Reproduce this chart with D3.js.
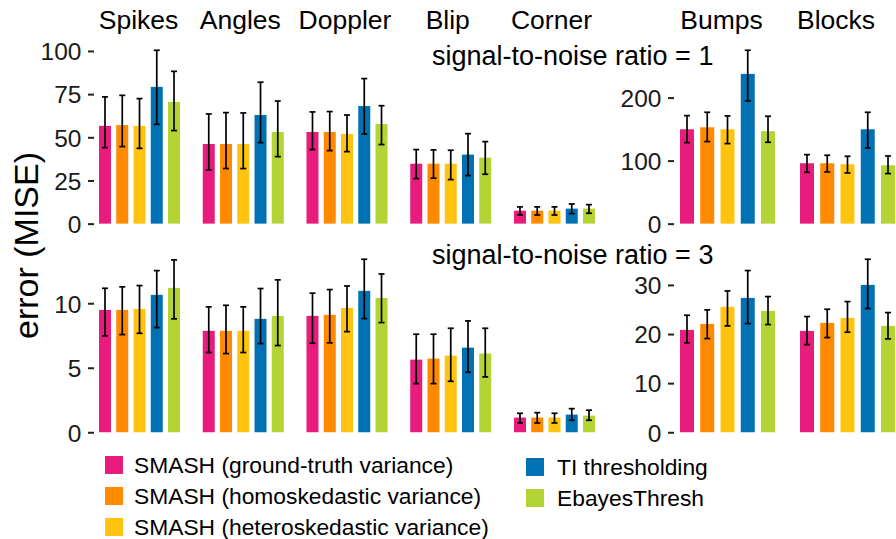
<!DOCTYPE html>
<html><head><meta charset="utf-8">
<script src="https://cdn.jsdelivr.net/npm/d3@7"></script>
<style>
body{margin:0;background:#fff}
svg{display:block}
text{font-family:"Liberation Sans",Arial,Helvetica,sans-serif}
</style>
</head><body><svg id="c" width="896" height="539"></svg>
<script>
// ---------------- data ----------------
const signalsLeft = ["Spikes", "Angles", "Doppler", "Blip", "Corner"];
const signalsRight = ["Bumps", "Blocks"];
const methods = [
  "SMASH (ground-truth variance)",
  "SMASH (homoskedastic variance)",
  "SMASH (heteroskedastic variance)",
  "TI thresholding",
  "EbayesThresh"
];
const methodColors = ["#e81c7c", "#ff8a00", "#ffc40f", "#0071b3", "#b4d335"];
const snrLabels = ["signal-to-noise ratio = 1", "signal-to-noise ratio = 3"];
const yTitle = "error (MISE)";

// rows: Spikes, Angles, Doppler, Blip, Corner, Bumps, Blocks ; columns: methods
const snr1Mean = [
  [56.6, 57.1, 56.6, 79.2, 70.5],
  [46.1, 46.1, 46.1, 62.9, 53.1],
  [53.1, 53.1, 51.9, 68.1, 57.7],
  [34.7, 34.7, 34.7, 40.0, 38.2],
  [7.5, 7.5, 7.5, 8.7, 8.7],
  [149.7, 152.9, 149.7, 237.6, 146.6],
  [95.8, 95.8, 94.2, 149.7, 92.6]
];
const snr1Lower = [
  [44.0, 44.6, 43.6, 57.5, 53.9],
  [31.1, 31.9, 31.9, 46.9, 38.8],
  [42.9, 42.3, 41.7, 51.9, 45.8],
  [26.1, 26.3, 25.5, 27.8, 28.6],
  [5.0, 5.0, 5.0, 5.8, 6.0],
  [128.6, 130.2, 127.0, 194.7, 129.1],
  [81.5, 82.0, 80.4, 120.1, 79.4]
];
const snr1Upper = [
  [73.4, 74.3, 72.4, 100.4, 88.2],
  [63.5, 64.3, 64.1, 81.9, 71.0],
  [64.7, 64.9, 62.9, 84.0, 68.3],
  [42.9, 42.7, 42.5, 52.1, 47.5],
  [9.7, 9.7, 9.7, 11.4, 11.0],
  [171.4, 176.7, 170.9, 275.1, 170.4],
  [109.5, 108.5, 106.9, 176.7, 107.4]
];
const snr3Mean = [
  [9.48, 9.48, 9.56, 10.65, 11.19],
  [7.86, 7.86, 7.86, 8.79, 9.02],
  [9.02, 9.10, 9.64, 10.96, 10.41],
  [5.63, 5.71, 5.94, 6.56, 6.10],
  [1.14, 1.14, 1.14, 1.37, 1.29],
  [20.84, 22.06, 25.53, 27.36, 24.71],
  [20.64, 22.27, 23.29, 30.01, 21.66]
];
const snr3Lower = [
  [7.47, 7.57, 7.67, 8.11, 8.79],
  [6.18, 6.10, 6.18, 6.87, 6.72],
  [6.90, 6.93, 7.80, 8.81, 8.50],
  [3.77, 3.77, 3.95, 4.65, 4.29],
  [0.72, 0.72, 0.72, 0.93, 0.93],
  [18.19, 19.08, 21.66, 22.13, 21.93],
  [17.85, 19.28, 20.37, 25.19, 19.01]
];
const snr3Upper = [
  [11.16, 11.27, 11.37, 12.53, 13.36],
  [9.72, 9.84, 9.72, 11.14, 11.81],
  [10.78, 11.06, 11.34, 13.41, 12.27],
  [7.60, 7.60, 8.06, 8.63, 8.06],
  [1.47, 1.52, 1.47, 1.83, 1.71],
  [23.83, 24.92, 28.78, 32.93, 27.63],
  [23.56, 25.05, 26.61, 35.23, 24.37]
];
const ticksSnr1Left = [0, 25, 50, 75, 100];
const ticksSnr1Right = [0, 100, 200];
const ticksSnr3Left = [0, 5, 10];
const ticksSnr3Right = [0, 10, 20, 30];

// ---------------- layout ----------------
const FONT = '"Liberation Sans",Arial,Helvetica,sans-serif';
const svg = d3.select("#c");
const signals = signalsLeft.concat(signalsRight);

const xLeft = d3.scaleBand().domain(signalsLeft).range([99, 595]).paddingInner(0.219);
const xRight = d3.scaleBand().domain(signalsRight).range([680, 895]).paddingInner(0.2083);
const innerLeft = d3.scaleBand().domain(methods).range([0, xLeft.bandwidth()]).paddingInner(0.304);
const innerRight = d3.scaleBand().domain(methods).range([0, xRight.bandwidth()]).paddingInner(0.309);
const color = d3.scaleOrdinal().domain(methods).range(methodColors);

const panels = [
  { signals: signalsLeft, x: xLeft, inner: innerLeft, axisX: 94, labelNudge: [-1, -3, -2, -3, -3] },
  { signals: signalsRight, x: xRight, inner: innerRight, axisX: 674, labelNudge: [-6, -11.5] }
];
const rows = [
  { mean: snr1Mean, lo: snr1Lower, hi: snr1Upper, top: 41.6, bottom: 232.3,
    ticks: [ticksSnr1Left, ticksSnr1Right], title: snrLabels[0], titleY: 65 },
  { mean: snr3Mean, lo: snr3Lower, hi: snr3Upper, top: 250.6, bottom: 440.9,
    ticks: [ticksSnr3Left, ticksSnr3Right], title: snrLabels[1], titleY: 264 }
];

rows.forEach(row => {
  panels.forEach((panel, pi) => {
    const idx = panel.signals.map(s => signals.indexOf(s));
    const maxV = d3.max(idx, i => d3.max(row.hi[i]));
    const y = d3.scaleLinear().domain([-0.05 * maxV, 1.05 * maxV]).range([row.bottom, row.top]);

    // axis
    const g = svg.append("g")
      .attr("transform", `translate(${panel.axisX},0)`)
      .call(d3.axisLeft(y).tickValues(row.ticks[pi]).tickSize(6).tickPadding(6.5));
    g.select(".domain").remove();
    g.attr("font-family", FONT).attr("font-size", 24.5).attr("color", "#1a1a1a");
    g.selectAll(".tick line").attr("stroke", "#222").attr("stroke-width", 2);
    g.selectAll(".tick text").attr("dy", "0.36em");

    // bars + error bars
    idx.forEach((si, k) => {
      const sig = panel.signals[k];
      const x0 = panel.x(sig);
      const bw = panel.inner.bandwidth();
      methods.forEach((m, j) => {
        const bx = x0 + panel.inner(m);
        const v = row.mean[si][j];
        svg.append("rect")
          .attr("x", bx).attr("width", bw)
          .attr("y", y(v)).attr("height", y(0) - y(v))
          .attr("fill", color(m));
        const cx = bx + bw / 2;
        const yl = y(row.lo[si][j]), yh = y(row.hi[si][j]);
        const eg = svg.append("g").attr("stroke", "#000").attr("stroke-width", 1.7);
        eg.append("line").attr("x1", cx).attr("x2", cx).attr("y1", yl).attr("y2", yh);
        eg.append("line").attr("x1", cx - 3).attr("x2", cx + 3).attr("y1", yl).attr("y2", yl);
        eg.append("line").attr("x1", cx - 3).attr("x2", cx + 3).attr("y1", yh).attr("y2", yh);
      });
    });
  });

  svg.append("text")
    .attr("x", 432).attr("y", row.titleY)
    .attr("font-size", 27).attr("fill", "#000")
    .text(row.title);
});

// signal labels on top
panels.forEach(panel => {
  panel.signals.forEach((sig, k) => {
    svg.append("text")
      .attr("x", panel.x(sig) + panel.x.bandwidth() / 2 + panel.labelNudge[k])
      .attr("y", 29)
      .attr("text-anchor", "middle")
      .attr("font-size", 26.5).attr("fill", "#000")
      .text(sig);
  });
});

// y title
svg.append("text")
  .attr("transform", "translate(37.5,245.5) rotate(-90)")
  .attr("text-anchor", "middle")
  .attr("font-size", 34).attr("fill", "#000")
  .text(yTitle);

// legend
const legendCols = [
  { items: methods.slice(0, 3), x: 105, y: 456, tx: 134 },
  { items: methods.slice(3), x: 526, y: 458, tx: 557 }
];
legendCols.forEach(col => {
  col.items.forEach((m, i) => {
    const yy = col.y + i * 31;
    svg.append("rect").attr("x", col.x).attr("y", yy).attr("width", 18).attr("height", 18)
      .attr("fill", color(m));
    svg.append("text").attr("x", col.tx).attr("y", yy + 9).attr("dy", "0.36em")
      .attr("font-size", 22.8).attr("fill", "#000").text(m);
  });
});
</script>
</body></html>
